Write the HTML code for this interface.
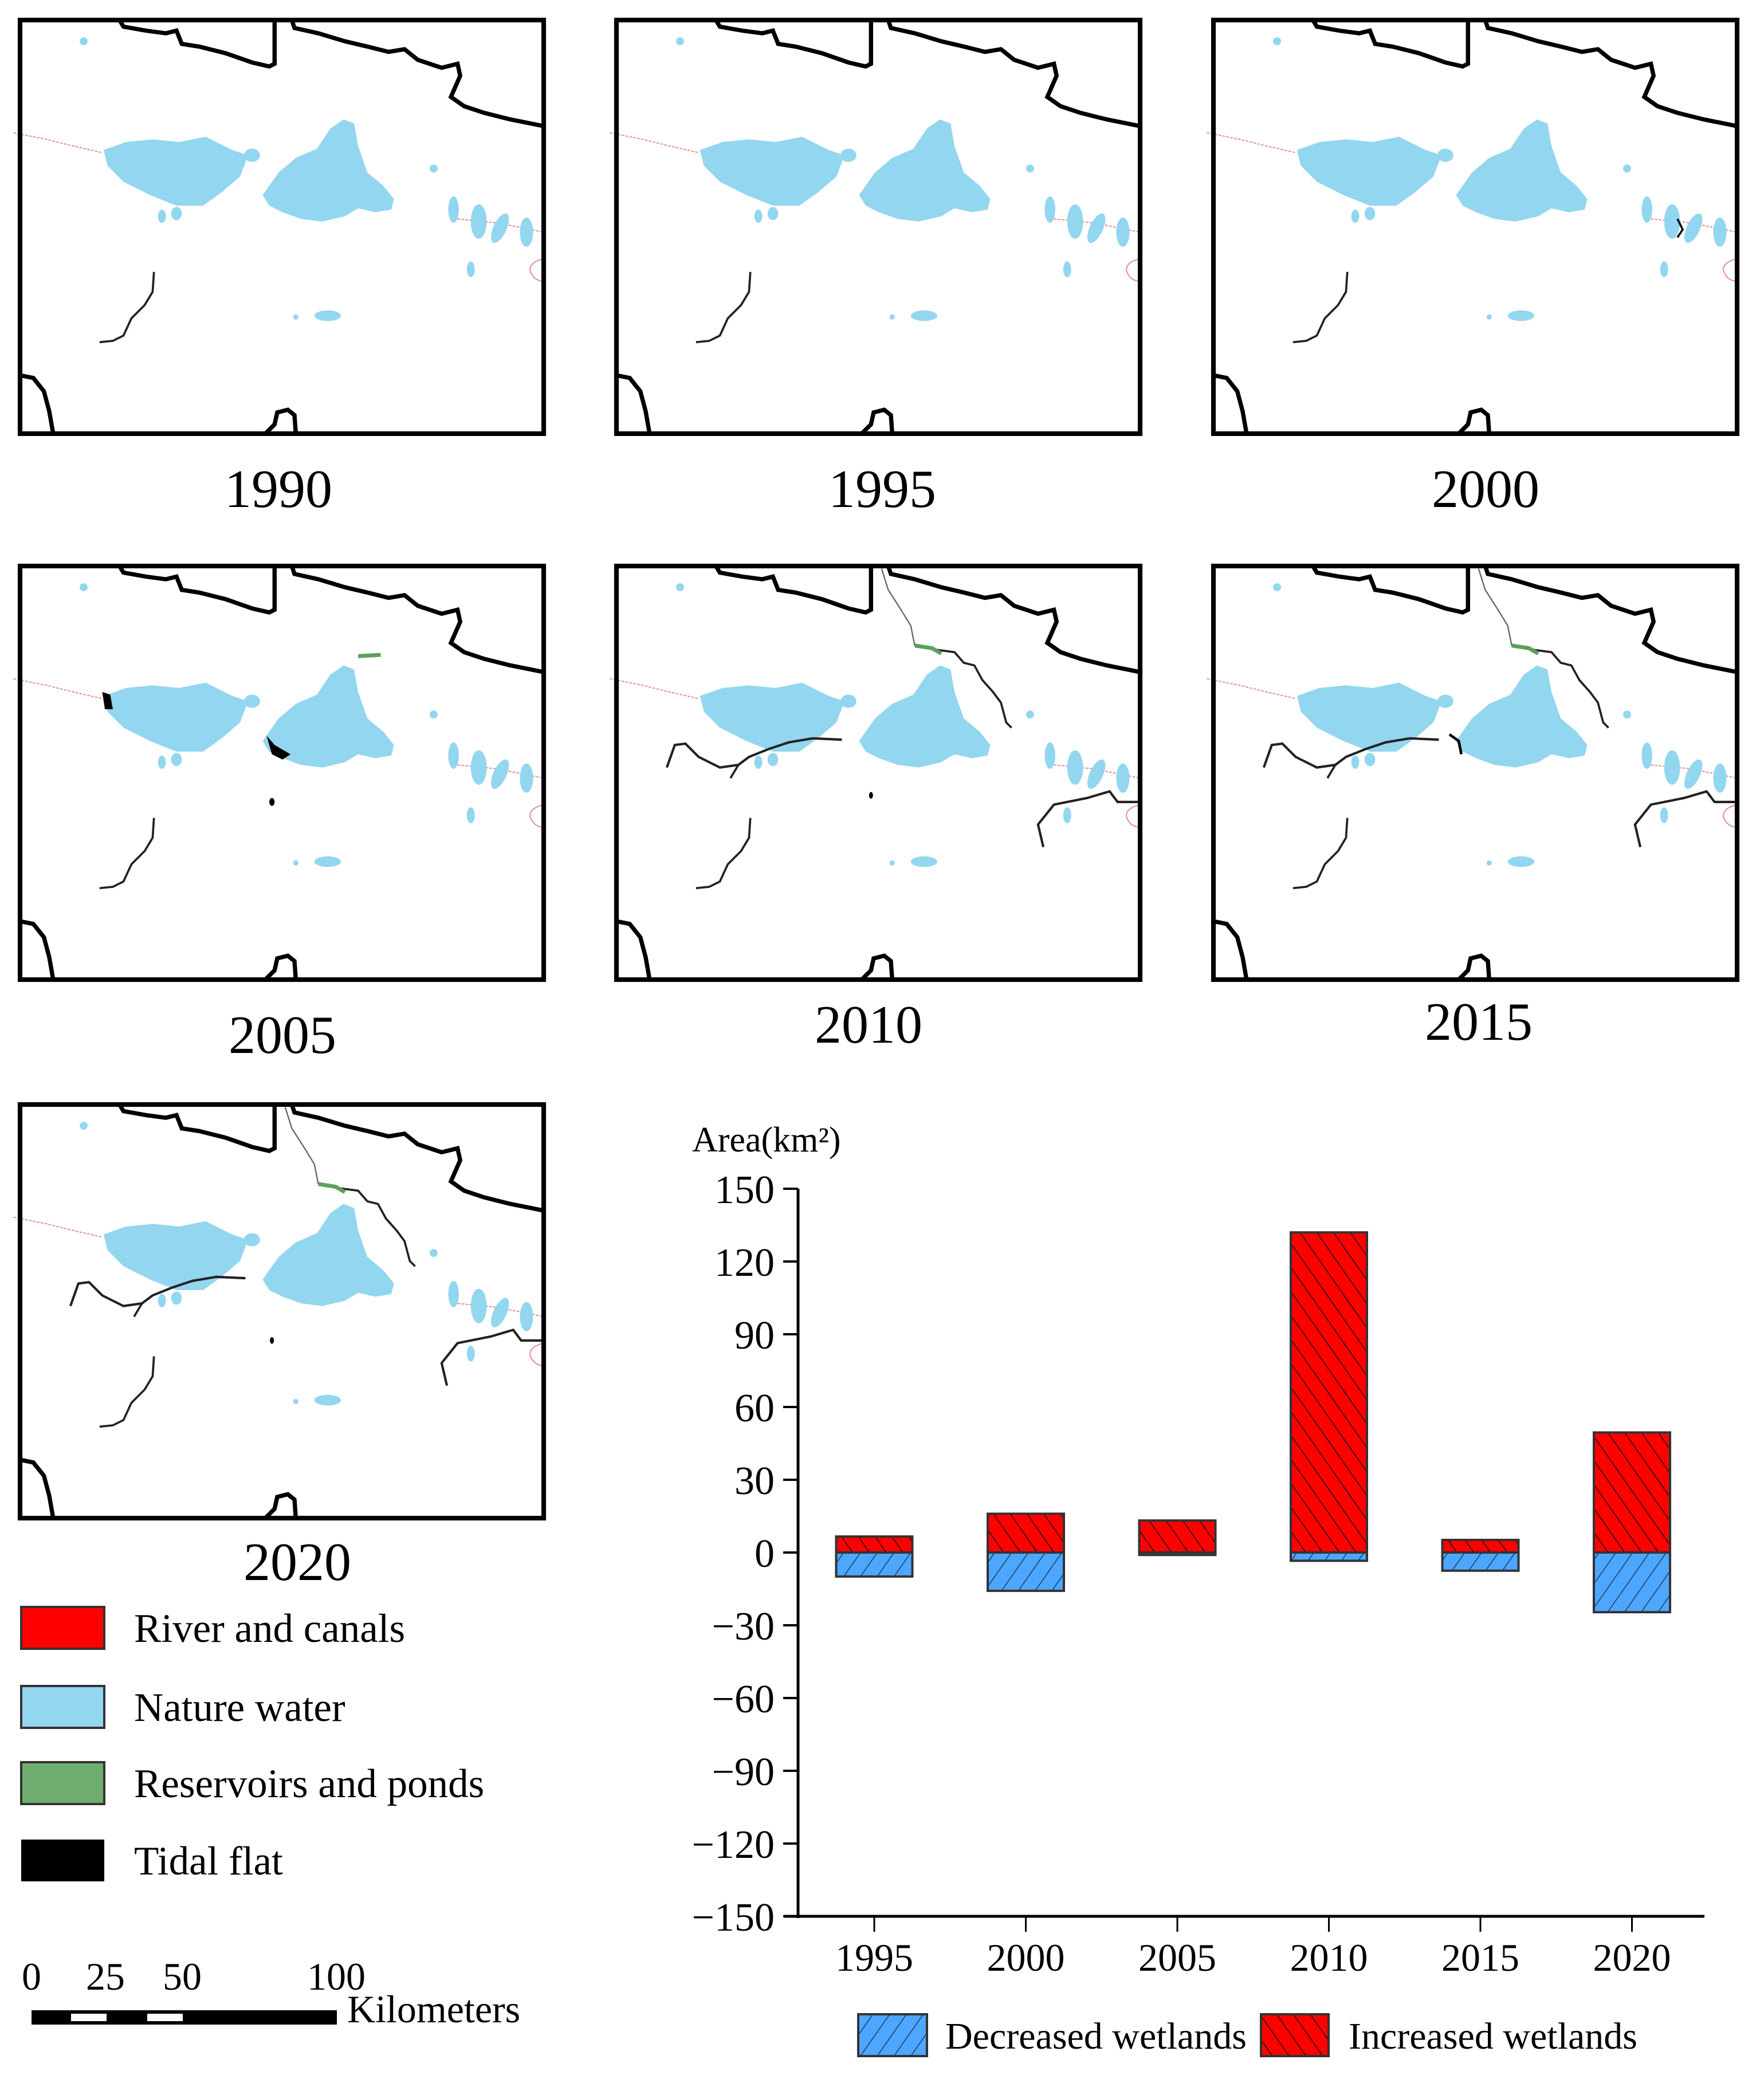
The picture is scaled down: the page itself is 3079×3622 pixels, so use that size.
<!DOCTYPE html>
<html><head><meta charset="utf-8"><style>
html,body{margin:0;padding:0;background:#fff;}
svg{display:block;font-family:"Liberation Serif",serif;}
</style></head><body>
<svg id="root" width="3079" height="3622" viewBox="0 0 3079 3622" xmlns="http://www.w3.org/2000/svg">
<defs>
<pattern id="hatchInc" patternUnits="userSpaceOnUse" width="24" height="24" patternTransform="rotate(-35)">
<rect width="24" height="24" fill="#ff0000"/><line x1="0" y1="0" x2="0" y2="24" stroke="#111" stroke-width="3"/>
</pattern>
<pattern id="hatchDec" patternUnits="userSpaceOnUse" width="24" height="24" patternTransform="rotate(35)">
<rect width="24" height="24" fill="#4da6ff"/><line x1="0" y1="0" x2="0" y2="24" stroke="#1a3a66" stroke-width="3"/>
</pattern>
<g id="mapbase">
<rect x="0" y="0" width="395" height="312" fill="#fff"/>
<path d="M-5,85 L20,90 L40,95 L62,100" fill="none" stroke="#d88" stroke-width="0.8" stroke-dasharray="2,1"/>
<path d="M330,150 L360,153 L395,160" fill="none" stroke="#d88" stroke-width="0.8" stroke-dasharray="2,1"/>
<path d="M395,180 Q383,183 385,190 Q388,197 395,197" fill="none" stroke="#d88" stroke-width="0.8"/>
<path d="M63,98 L80,92 L100,90 L120,92 L140,88 L160,98 L172,102 L166,118 L152,130 L138,140 L118,140 L98,132 L78,122 L66,110 Z" fill="#93d6f0"/>
<ellipse cx="118" cy="146" rx="4" ry="5" fill="#93d6f0"/><ellipse cx="107" cy="148" rx="3" ry="5" fill="#93d6f0"/>
<ellipse cx="175" cy="102" rx="6" ry="5" fill="#93d6f0"/>
<path d="M183,132 L195,115 L208,104 L224,97 L234,82 L244,75 L252,78 L255,95 L262,115 L274,125 L282,135 L280,143 L268,145 L255,142 L245,148 L228,152 L212,150 L198,145 L188,140 Z" fill="#93d6f0"/>
<ellipse cx="327" cy="143" rx="4" ry="10" fill="#93d6f0"/>
<ellipse cx="346" cy="152" rx="6" ry="13" fill="#93d6f0"/>
<ellipse cx="362" cy="157" rx="5" ry="12" fill="#93d6f0" transform="rotate(25 362 157)"/>
<ellipse cx="382" cy="160" rx="5" ry="11" fill="#93d6f0"/>
<ellipse cx="312" cy="112" rx="3" ry="3" fill="#93d6f0"/>
<ellipse cx="232" cy="223" rx="10" ry="4" fill="#93d6f0"/>
<ellipse cx="208" cy="224" rx="2" ry="2" fill="#93d6f0"/>
<ellipse cx="48" cy="16" rx="3" ry="3" fill="#93d6f0"/>
<ellipse cx="340" cy="188" rx="3" ry="6" fill="#93d6f0"/>
<path d="M101,190 L100,205 L94,215 L84,225 L78,238 L70,242 L60,243" fill="none" stroke="#222" stroke-width="1.6"/>
<path d="M75,0 L78,5 L95,8 L110,10 L118,8 L122,18 L135,20 L155,25 L175,32 L188,35 L192,33 L192,0" fill="none" stroke="#000" stroke-width="3.2"/>
<path d="M205,0 L207,6 L225,10 L245,16 L262,20 L278,24 L290,22 L300,30 L318,36 L330,33 L332,42 L325,58 L335,65 L350,70 L370,75 L395,80" fill="none" stroke="#000" stroke-width="3.2"/>
<path d="M0,268 L10,270 L18,280 L22,295 L25,312" fill="none" stroke="#000" stroke-width="3.2"/>
<path d="M185,312 L192,305 L194,296 L202,294 L207,298 L208,312" fill="none" stroke="#000" stroke-width="3.2"/>
</g>
<g id="rivers2010">
<path d="M200,2 L205,18 L214,32 L222,45 L225,60" fill="none" stroke="#666" stroke-width="1"/>
<path d="M225,60 L240,63 L255,65 L262,73 L270,75 L276,86 L284,95 L290,103 L294,118 L298,122" fill="none" stroke="#222" stroke-width="1.6"/>
<path d="M225,60 L238,62 L245,66" fill="none" stroke="#5ca05c" stroke-width="3"/>
<path d="M38,152 L44,135 L52,134 L62,144 L78,152 L92,150 L100,144 L115,138 L130,133 L148,130 L170,131" fill="none" stroke="#222" stroke-width="1.8"/>
<path d="M92,150 L86,160" fill="none" stroke="#222" stroke-width="1.6"/>
<path d="M322,212 L318,195 L330,180 L355,175 L372,170 L378,178 L395,178" fill="none" stroke="#222" stroke-width="1.8"/>
</g>
</defs>

<g transform="translate(35,35) scale(2.314)">
<use href="#mapbase"/>
<rect x="0" y="0" width="395" height="312" fill="none" stroke="#000" stroke-width="3.5"/>
</g>
<text x="486" y="885" font-size="94" text-anchor="middle">1990</text>

<g transform="translate(1076,35) scale(2.314)">
<use href="#mapbase"/>
<rect x="0" y="0" width="395" height="312" fill="none" stroke="#000" stroke-width="3.5"/>
</g>
<text x="1540" y="885" font-size="94" text-anchor="middle">1995</text>

<g transform="translate(2118,35) scale(2.314)">
<use href="#mapbase"/>
<path d="M350,150 L354,158 L350,164" fill="none" stroke="#000" stroke-width="1.5"/>
<rect x="0" y="0" width="395" height="312" fill="none" stroke="#000" stroke-width="3.5"/>
</g>
<text x="2593" y="885" font-size="94" text-anchor="middle">2000</text>

<g transform="translate(35,988) scale(2.314)">
<use href="#mapbase"/>
<path d="M62,95 L68,97 L70,108 L64,108 Z" fill="#000"/>
<path d="M186,128 L192,135 L204,142 L198,146 L190,142 Z" fill="#000"/>
<ellipse cx="190" cy="178" rx="2" ry="3" fill="#000"/>
<path d="M255,68 L272,67" stroke="#5ca05c" stroke-width="3"/>
<rect x="0" y="0" width="395" height="312" fill="none" stroke="#000" stroke-width="3.5"/>
</g>
<text x="493" y="1838" font-size="94" text-anchor="middle">2005</text>

<g transform="translate(1076,988) scale(2.314)">
<use href="#mapbase"/><use href="#rivers2010"/>
<ellipse cx="192" cy="173" rx="1.5" ry="2.5" fill="#000"/>
<rect x="0" y="0" width="395" height="312" fill="none" stroke="#000" stroke-width="3.5"/>
</g>
<text x="1516" y="1820" font-size="94" text-anchor="middle">2010</text>

<g transform="translate(2118,988) scale(2.314)">
<use href="#mapbase"/><use href="#rivers2010"/>
<path d="M178,127 L185,132 L187,142" fill="none" stroke="#000" stroke-width="2"/>
<rect x="0" y="0" width="395" height="312" fill="none" stroke="#000" stroke-width="3.5"/>
</g>
<text x="2581" y="1815" font-size="94" text-anchor="middle">2015</text>

<g transform="translate(35,1928) scale(2.314)">
<use href="#mapbase"/><use href="#rivers2010"/>
<ellipse cx="190" cy="178" rx="1.5" ry="2.5" fill="#000"/>
<rect x="0" y="0" width="395" height="312" fill="none" stroke="#000" stroke-width="3.5"/>
</g>
<text x="519" y="2758" font-size="94" text-anchor="middle">2020</text>

<g font-size="71">
<rect x="37" y="2805" width="145" height="73" fill="#ff0000" stroke="#333" stroke-width="4"/>
<text x="234" y="2866">River and canals</text>
<rect x="37" y="2943" width="145" height="73" fill="#93d6f0" stroke="#333" stroke-width="4"/>
<text x="234" y="3004">Nature water</text>
<rect x="37" y="3076" width="145" height="73" fill="#6fae6f" stroke="#333" stroke-width="4"/>
<text x="234" y="3137">Reservoirs and ponds</text>
<rect x="37" y="3211" width="145" height="73" fill="#000"/>
<text x="234" y="3272">Tidal flat</text>
</g>

<g font-size="68">
<text x="38" y="3473">0</text>
<text x="150" y="3473">25</text>
<text x="284" y="3473">50</text>
<text x="536" y="3473">100</text>
<text x="606" y="3530">Kilometers</text>
<rect x="55" y="3509" width="533" height="25" fill="#000"/>
<rect x="124" y="3515" width="62" height="13" fill="#fff"/>
<rect x="257" y="3515" width="62" height="13" fill="#fff"/>
</g>

<g id="chart"></g>
</svg>
<script>
const categories = ["1995","2000","2005","2010","2015","2020"];
const increased = [6.6, 16, 13.2, 132, 5.2, 49.5];
const decreased = [-9.9, -15.8, -1, -3.4, -7.5, -24.6];
const yTicks = [150,120,90,60,30,0,-30,-60,-90,-120,-150];
const yTickLabels = ["150","120","90","60","30","0","\u221230","\u221260","\u221290","\u2212120","\u2212150"];

const NS="http://www.w3.org/2000/svg";
const chart=document.getElementById('chart');
const X0=1393, XR=2975, YT=2075, YB=3345, VMAX=150, VMIN=-150;
const firstX=1526, step=264.5, barW=133;
function yScale(v){return YT+(VMAX-v)*(YB-YT)/(VMAX-VMIN);}
function xScale(i){return firstX+i*step;}
function mk(tag,attrs){const e=document.createElementNS(NS,tag);for(const k in attrs)e.setAttribute(k,attrs[k]);chart.appendChild(e);return e;}

let t=mk('text',{x:1208,y:2010,'font-size':62});
t.textContent='Area(km\u00B2)';



let ax=mk('line',{x1:X0,y1:YT,x2:X0,y2:YB+3,stroke:'#000','stroke-width':5});


let bx=mk('line',{x1:1369,y1:YB,x2:XR,y2:YB,stroke:'#000','stroke-width':5});



yTicks.forEach((v,i)=>{
  const y=yScale(v);
  const tk=mk('line',{x1:X0-26,y1:y,x2:X0,y2:y,stroke:'#000','stroke-width':4});
  
  
  const lb=mk('text',{x:1352,y:y+25,'font-size':70,'text-anchor':'end'});
  lb.textContent=yTickLabels[i];
  
  
});

categories.forEach((c,i)=>{
  const x=xScale(i);
  const tk=mk('line',{x1:x,y1:YB,x2:x,y2:YB+27,stroke:'#000','stroke-width':3});
  
  
  const lb=mk('text',{x:x,y:3440,'font-size':68,'text-anchor':'middle'});
  lb.textContent=c;
  
  
  const y0=yScale(0);
  const yi=yScale(increased[i]);
  const ri=mk('rect',{x:x-barW/2,y:yi,width:barW,height:y0-yi,fill:'url(#hatchInc)',stroke:'#333','stroke-width':4});
  
  
  const yd=yScale(decreased[i]);
  const rd=mk('rect',{x:x-barW/2,y:y0,width:barW,height:yd-y0,fill:'url(#hatchDec)',stroke:'#333','stroke-width':4});
  
  
});

let l1=mk('rect',{x:1498,y:3516,width:120,height:73,fill:'url(#hatchDec)',stroke:'#333','stroke-width':4});


let l1t=mk('text',{x:1650,y:3576,'font-size':66});
l1t.textContent='Decreased wetlands';


let l2=mk('rect',{x:2201,y:3516,width:118,height:73,fill:'url(#hatchInc)',stroke:'#333','stroke-width':4});


let l2t=mk('text',{x:2354,y:3576,'font-size':66});
l2t.textContent='Increased wetlands';


</script>
</body></html>
